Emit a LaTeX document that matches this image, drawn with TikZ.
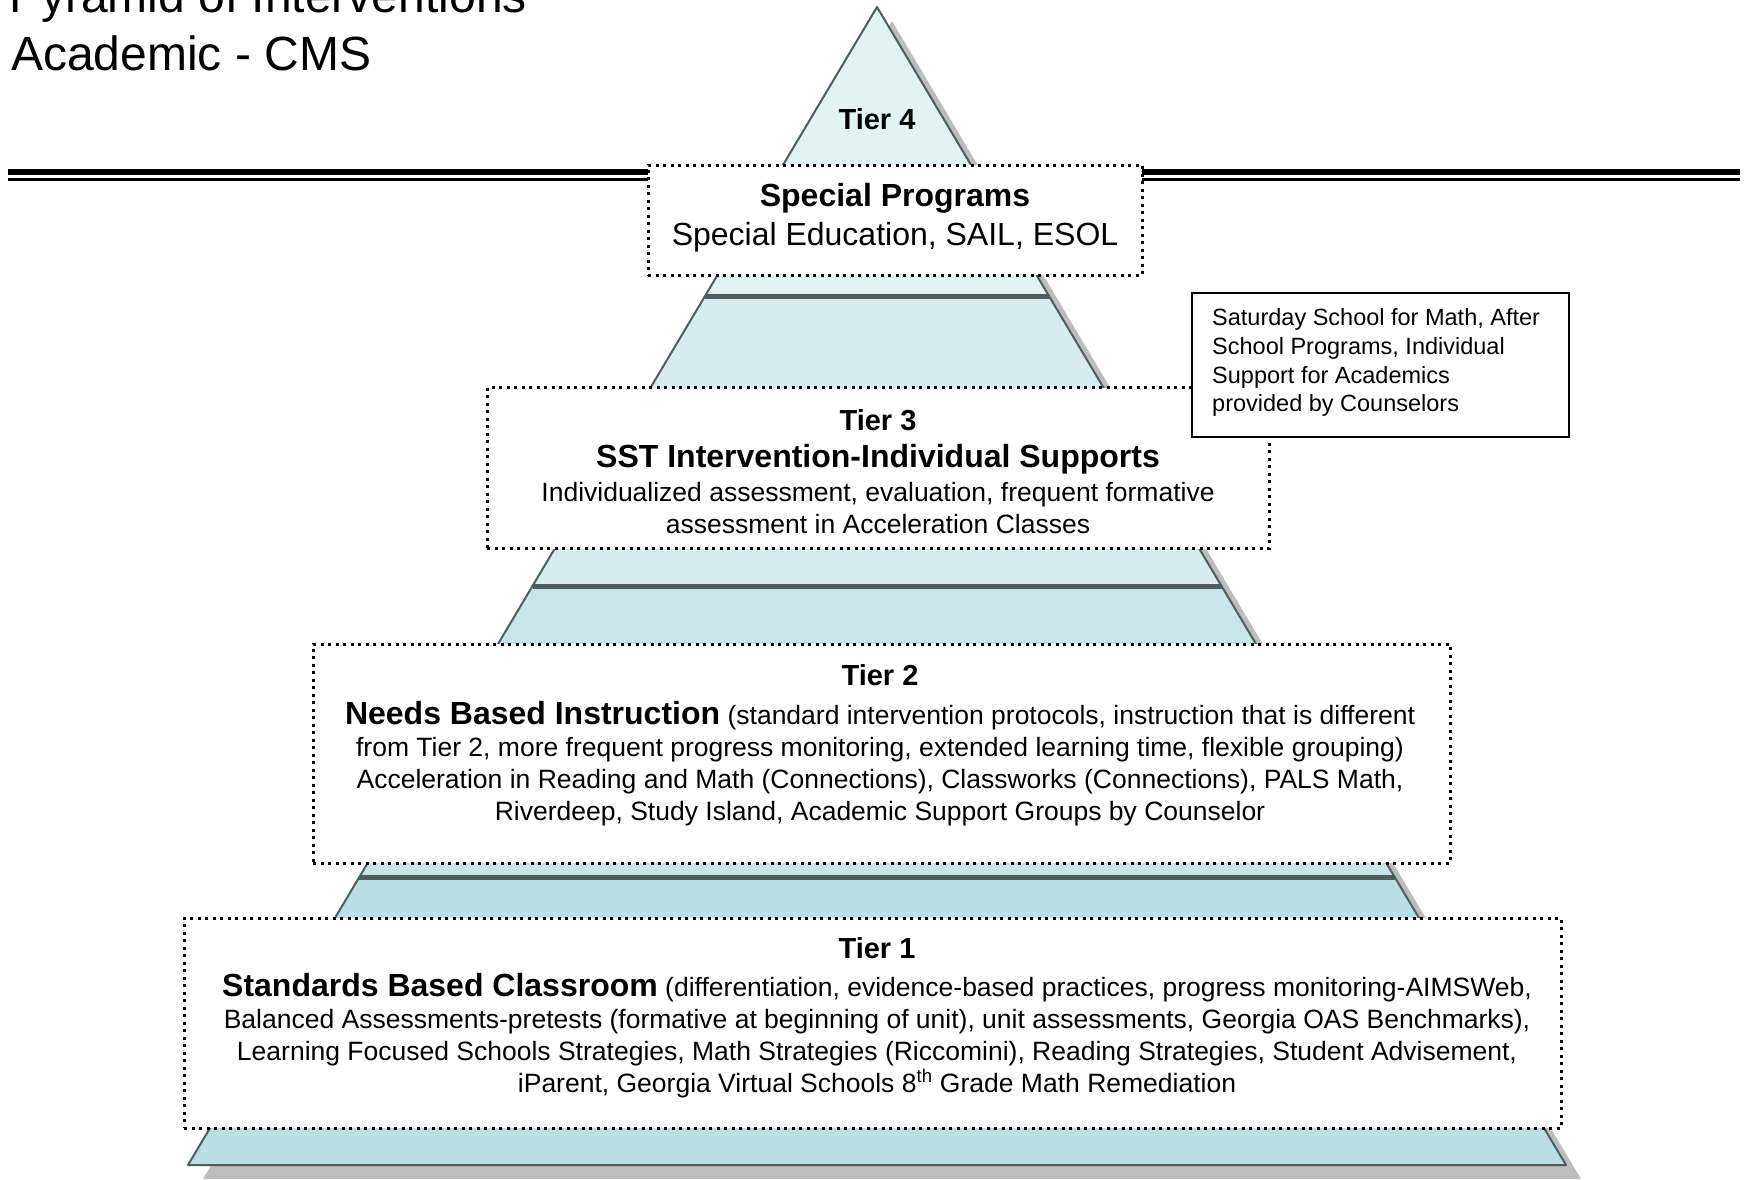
\documentclass[tikz,border=0pt]{standalone}
\usepackage{fontspec}
\setmainfont{Liberation Sans}
\usetikzlibrary{calc,positioning}
\definecolor{layerA}{HTML}{E3F2F3}
\definecolor{layerB}{HTML}{D8ECEF}
\definecolor{layerC}{HTML}{C8E6E9}
\definecolor{layerD}{HTML}{B9DFE2}
\definecolor{rim}{HTML}{4E5E5E}
\definecolor{dropgray}{HTML}{BDBDBD}
\tikzset{
  lvl/.style={draw=rim,line width=2pt,line join=round},
  seam/.style={draw=rim,line width=5pt},
  tierbox/.style={draw=black,fill=white,line width=3pt,dash pattern=on 3pt off 4.5pt,inner sep=0pt},
  notebox/.style={draw=black,fill=white,line width=2pt,inner sep=0pt},
  txt/.style={inner sep=0pt,anchor=base,font=\fontsize{26.5}{30}\selectfont},
  bigtxt/.style={txt,font=\fontsize{32}{36}\selectfont},
  head/.style={txt,font=\fontsize{32}{36}\selectfont\bfseries},
  tierlbl/.style={txt,font=\fontsize{29}{34}\selectfont\bfseries},
  notetxt/.style={inner sep=0pt,anchor=base west,font=\fontsize{23.5}{26}\selectfont},
  titletxt/.style={inner sep=0pt,anchor=base west,font=\fontsize{48}{58}\selectfont},
}

\begin{document}
\begin{tikzpicture}[x=1pt,y=-1pt]
\clip (0,0) rectangle (1745,1180);
\useasboundingbox (0,0) rectangle (1745,1180);

% title, top left
\node[titletxt] (title1) at (9,13) {Pyramid of Interventions};
\node[titletxt] (title2) at (11,71) {Academic - CMS};

% pyramid corners and layer cuts
\coordinate (apex) at (877,7);
\coordinate (bl) at (188,1165);
\coordinate (br) at (1566,1165);
\coordinate (l1) at ($(apex)!0.25!(bl)$);
\coordinate (r1) at ($(apex)!0.25!(br)$);
\coordinate (l2) at ($(apex)!0.5!(bl)$);
\coordinate (r2) at ($(apex)!0.5!(br)$);
\coordinate (l3) at ($(apex)!0.752!(bl)$);
\coordinate (r3) at ($(apex)!0.752!(br)$);

% drop shadow
\fill[dropgray] ([shift={(15,14)}]apex) -- ([shift={(15,14)}]bl) -- ([shift={(15,14)}]br) -- cycle;

% layers, top to bottom
\filldraw[lvl,fill=layerA] (apex) -- (l1) -- (r1) -- cycle;
\filldraw[lvl,fill=layerB] (l1) -- (l2) -- (r2) -- (r1) -- cycle;
\filldraw[lvl,fill=layerC] (l2) -- (l3) -- (r3) -- (r2) -- cycle;
\filldraw[lvl,fill=layerD] (l3) -- (bl) -- (br) -- (r3) -- cycle;
\draw[seam] (l1) -- (r1);
\draw[seam] (l2) -- (r2);
\draw[seam] (l3) -- (r3);

\node[tierlbl] (t4lbl) at (877,130) {Tier 4};

% double rule across the page
\coordinate (ruleW) at (8,176);
\coordinate (ruleE) at (1740,176);
\draw[line width=2.5pt] ([yshift=-3.5pt]ruleW) -- ([yshift=-3.5pt]ruleE);
\draw[line width=6.5pt] ([yshift=4pt]ruleW) -- ([yshift=4pt]ruleE);

% tier boxes
\node[tierbox,minimum width=494pt,minimum height=110pt] (spbox) at (895,220) {};
\node[tierbox,minimum width=782pt,minimum height=161pt] (t3box) at (878,468) {};
\node[tierbox,minimum width=1137pt,minimum height=219pt] (t2box) at (881.5,753.5) {};
\node[tierbox,minimum width=1377pt,minimum height=210pt] (t1box) at (872.5,1023) {};

% side note
\node[notebox,minimum width=377pt,minimum height=144pt] (satbox) at (1380.5,365) {};
\node[notetxt] (sat1) at (1212,325) {Saturday School for Math, After};
\node[notetxt] (sat2) at (1212,354) {School Programs, Individual};
\node[notetxt] (sat3) at (1212,383) {Support for Academics};
\node[notetxt] (sat4) at (1212,411) {provided by Counselors};

% special programs
\node[head] (sphead) at (895,206) {Special Programs};
\node[bigtxt] (spbody) at (895,245) {Special Education, SAIL, ESOL};

% tier 3
\node[tierlbl] (t3lbl) at (878,430) {Tier 3};
\node[head] (t3head) at (878,467) {SST Intervention-Individual Supports};
\node[txt] (t3a) at (878,501) {Individualized assessment, evaluation, frequent formative};
\node[txt] (t3b) at (878,533) {assessment in Acceleration Classes};

% tier 2
\node[tierlbl] (t2lbl) at (880,685) {Tier 2};
\node[txt] (t2a) at (880,724) {{\fontsize{32}{36}\selectfont\bfseries Needs Based Instruction} (standard intervention protocols, instruction that is different};
\node[txt] (t2b) at (880,756) {from Tier 2, more frequent progress monitoring, extended learning time, flexible grouping)};
\node[txt] (t2c) at (880,788) {Acceleration in Reading and Math (Connections), Classworks (Connections), PALS Math,};
\node[txt] (t2d) at (880,820) {Riverdeep, Study Island, Academic Support Groups by Counselor};

% tier 1
\node[tierlbl] (t1lbl) at (877,958) {Tier 1};
\node[txt] (t1a) at (877,996) {{\fontsize{32}{36}\selectfont\bfseries Standards Based Classroom} (differentiation, evidence-based practices, progress monitoring-AIMSWeb,};
\node[txt] (t1b) at (877,1028) {Balanced Assessments-pretests (formative at beginning of unit), unit assessments, Georgia OAS Benchmarks),};
\node[txt] (t1c) at (877,1060) {Learning Focused Schools Strategies, Math Strategies (Riccomini), Reading Strategies, Student Advisement,};
\node[txt] (t1d) at (877,1092) {iParent, Georgia Virtual Schools 8\textsuperscript{th} Grade Math Remediation};

\end{tikzpicture}
\end{document}
